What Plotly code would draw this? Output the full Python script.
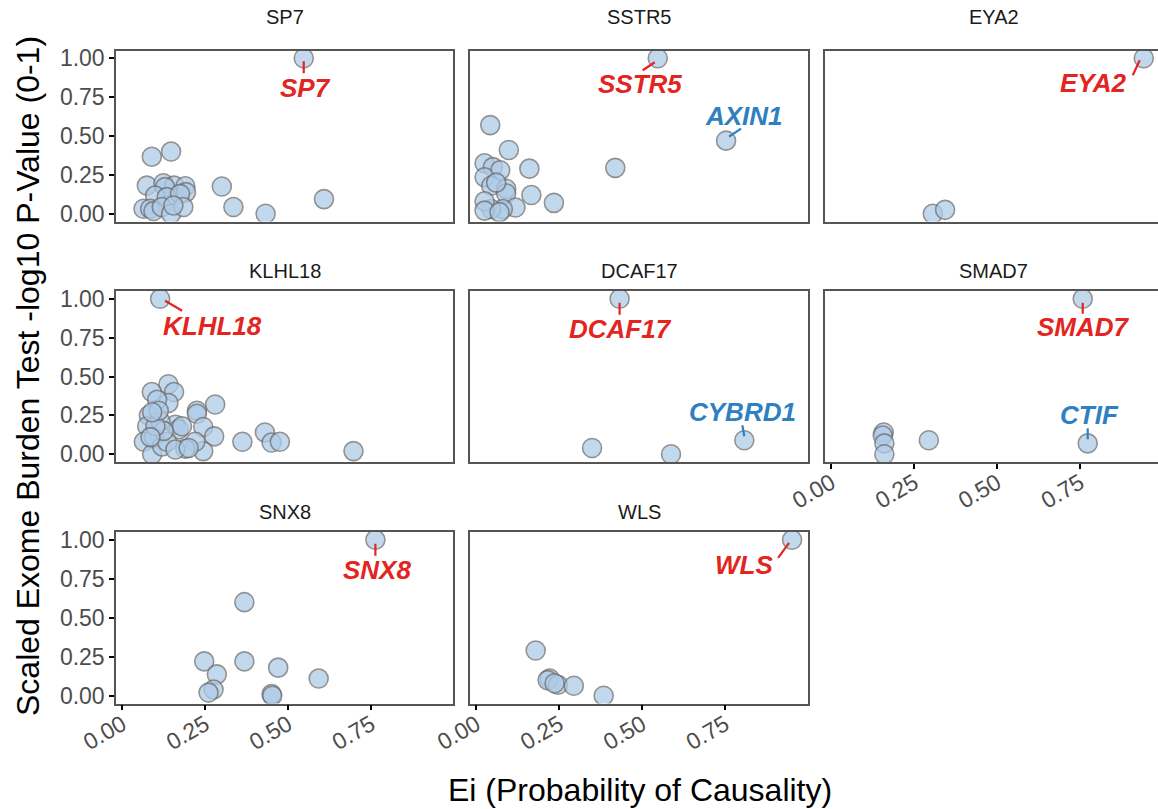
import plotly.graph_objects as go

# ---- data: Ei (x) and scaled -log10 burden-test p-value (y) per locus ----
panels = ["SP7", "SSTR5", "EYA2", "KLHL18", "DCAF17", "SMAD7", "SNX8", "WLS"]

sp7_x = [0.547, 0.089, 0.147, 0.074, 0.124, 0.156, 0.190, 0.192, 0.129, 0.099, 0.134, 0.174,
         0.064, 0.084, 0.094, 0.119, 0.147, 0.184, 0.154, 0.300, 0.335, 0.432, 0.608]
sp7_y = [1.000, 0.367, 0.400, 0.181, 0.196, 0.181, 0.177, 0.139, 0.171, 0.117, 0.107, 0.128,
         0.032, 0.032, 0.017, 0.043, 0.000, 0.043, 0.053, 0.175, 0.043, 0.000, 0.094]

sstr5_x = [0.547, 0.753, 0.042, 0.098, 0.160, 0.419, 0.025, 0.050, 0.072, 0.025, 0.045, 0.090,
           0.090, 0.166, 0.234, 0.118, 0.080, 0.045, 0.025, 0.025, 0.070, 0.060]
sstr5_y = [1.000, 0.470, 0.570, 0.410, 0.290, 0.295, 0.325, 0.300, 0.280, 0.235, 0.180, 0.160,
           0.130, 0.120, 0.070, 0.040, 0.030, 0.030, 0.080, 0.020, 0.010, 0.200]

eya2_x = [0.942, 0.306, 0.343]
eya2_y = [1.000, 0.000, 0.025]

klhl18_x = [0.114, 0.697, 0.362, 0.430, 0.450, 0.475, 0.280, 0.225, 0.225, 0.139, 0.156, 0.089,
            0.139, 0.105, 0.244, 0.277, 0.244, 0.220, 0.190, 0.160, 0.170, 0.080, 0.075, 0.065,
            0.090, 0.095, 0.115, 0.120, 0.135, 0.160, 0.200, 0.125, 0.100, 0.180, 0.085, 0.110,
            0.090]
klhl18_y = [1.000, 0.020, 0.080, 0.140, 0.075, 0.080, 0.320, 0.280, 0.260, 0.450, 0.400, 0.400,
            0.330, 0.350, 0.175, 0.115, 0.020, 0.080, 0.035, 0.190, 0.160, 0.250, 0.180, 0.080,
            0.000, 0.110, 0.210, 0.050, 0.080, 0.030, 0.040, 0.150, 0.180, 0.180, 0.110, 0.280,
            0.270]

dcaf17_x = [0.432, 0.808, 0.349, 0.587]
dcaf17_y = [1.000, 0.090, 0.040, 0.000]

smad7_x = [0.758, 0.773, 0.294, 0.158, 0.155, 0.160, 0.160]
smad7_y = [1.000, 0.070, 0.090, 0.140, 0.120, 0.070, 0.000]

snx8_x = [0.763, 0.368, 0.247, 0.368, 0.470, 0.592, 0.285, 0.275, 0.260, 0.450, 0.452]
snx8_y = [1.000, 0.600, 0.220, 0.220, 0.180, 0.110, 0.137, 0.040, 0.020, 0.010, 0.000]

wls_x = [0.952, 0.179, 0.221, 0.215, 0.246, 0.236, 0.294, 0.384]
wls_y = [1.000, 0.290, 0.110, 0.100, 0.070, 0.080, 0.064, 0.000]

panel_x = [sp7_x, sstr5_x, eya2_x, klhl18_x, dcaf17_x, smad7_x, snx8_x, wls_x]
panel_y = [sp7_y, sstr5_y, eya2_y, klhl18_y, dcaf17_y, smad7_y, snx8_y, wls_y]

# labelled genes: (panel index, point index, text, colour, text offset px, segment px)
RED = "#E32522"
BLUE = "#2E80C0"
labels = [
    (0, 0, "SP7", RED, (2, 30), ((0, 3), (0, 15))),
    (1, 0, "SSTR5", RED, (-18, 26), ((-3, 4), (-15, 12))),
    (1, 1, "AXIN1", BLUE, (18, -25), ((3, -4), (15, -12))),
    (2, 0, "EYA2", RED, (-50, 25), ((-4, 2), (-11, 17))),
    (3, 0, "KLHL18", RED, (52, 27), ((5, 2), (22, 12))),
    (4, 0, "DCAF17", RED, (1, 30), ((0, 4), (0, 16))),
    (4, 1, "CYBRD1", BLUE, (-2, -28), ((0, -4), (-2, -15))),
    (5, 0, "SMAD7", RED, (1, 28), ((0, 4), (0, 15))),
    (5, 1, "CTIF", BLUE, (2, -28), ((0, -4), (0, -15))),
    (6, 0, "SNX8", RED, (2, 30), ((0, 4), (0, 16))),
    (7, 0, "WLS", RED, (-48, 25), ((-3, 3), (-14, 18))),
]

x_ticks = [0.0, 0.25, 0.5, 0.75]
y_ticks = [0.0, 0.25, 0.5, 0.75, 1.0]

# ---- layout geometry (pixels) ----
W, H = 1158, 809
col_px = [(116, 453), (470, 808), (825, 1158)]
row_px = [(50.5, 221.5), (291.0, 462.0), (532.0, 703.5)]
strip_y = [17, 271, 512]          # vertical centre of facet titles
X0 = -0.019
PX_PER_X = 331.7

FONT = "Liberation Sans"
fig = go.Figure()

grid = [(0, 0), (0, 1), (0, 2), (1, 0), (1, 1), (1, 2), (2, 0), (2, 1)]
# which panels carry x tick labels (bottom of each column)
x_labelled = {6, 7, 5}

for i, (r, c) in enumerate(grid):
    n = i + 1
    xa = "x" if n == 1 else f"x{n}"
    ya = "y" if n == 1 else f"y{n}"
    xl = "xaxis" if n == 1 else f"xaxis{n}"
    yl = "yaxis" if n == 1 else f"yaxis{n}"
    cx0, cx1 = col_px[c]
    ry0, ry1 = row_px[r]
    x_hi = X0 + (cx1 - cx0) / PX_PER_X

    fig.add_trace(go.Scatter(
        x=panel_x[i], y=panel_y[i], mode="markers", xaxis=xa, yaxis=ya,
        marker=dict(size=19, color="#AECBE8", opacity=0.75,
                    line=dict(color="#6E6E6E", width=1.6)),
        showlegend=False, hoverinfo="skip"))

    fig.layout[xl] = dict(
        domain=[cx0 / W, cx1 / W], range=[X0, x_hi], anchor=ya,
        automargin=False, showgrid=False, zeroline=False,
        showline=True, linecolor="#555555", linewidth=1.5, mirror=True,
        tickvals=x_ticks if i in x_labelled else [],
        ticktext=["0.00", "0.25", "0.50", "0.75"] if i in x_labelled else [],
        ticks="outside" if i in x_labelled else "", ticklen=5, tickwidth=2,
        tickcolor="black", tickangle=-30, ticklabelstandoff=-8,
        tickfont=dict(family=FONT, size=23, color="#4D4D4D"))
    fig.layout[yl] = dict(
        domain=[1 - ry1 / H, 1 - ry0 / H], range=[-0.05, 1.05], anchor=xa,
        automargin=False, showgrid=False, zeroline=False,
        showline=True, linecolor="#555555", linewidth=1.5, mirror=(c != 2),
        tickvals=y_ticks if c == 0 else [],
        ticktext=["0.00", "0.25", "0.50", "0.75", "1.00"] if c == 0 else [],
        ticks="outside" if c == 0 else "", ticklen=5, tickwidth=2,
        tickcolor="black",
        tickfont=dict(family=FONT, size=23, color="#4D4D4D"))

    # facet strip title
    fig.add_annotation(
        x=(cx0 + (cx1 if c < 2 else 1162)) / 2 / W, y=1 - strip_y[r] / H,
        xref="paper", yref="paper", xanchor="center", yanchor="middle",
        text=panels[i], showarrow=False,
        font=dict(family=FONT, size=20, color="#1A1A1A"))

# gene labels with leader segments
for p, k, txt, col, (dx, dy), ((s0x, s0y), (s1x, s1y)) in labels:
    n = p + 1
    xa = "x" if n == 1 else f"x{n}"
    ya = "y" if n == 1 else f"y{n}"
    px_, py_ = panel_x[p][k], panel_y[p][k]
    fig.add_shape(type="line", xref=xa, yref=ya,
                  xsizemode="pixel", ysizemode="pixel",
                  xanchor=px_, yanchor=py_,
                  x0=s0x, x1=s1x, y0=-s0y, y1=-s1y,
                  line=dict(color=col, width=2.2))
    fig.add_annotation(x=px_, y=py_, xref=xa, yref=ya, text=txt,
                       showarrow=False, xshift=dx, yshift=-dy,
                       xanchor="center", yanchor="middle",
                       font=dict(family=FONT, size=26, color=col,
                                 weight="bold", style="italic"))

# axis titles
fig.add_annotation(x=640 / W, y=1 - 790 / H, xref="paper", yref="paper",
                   xanchor="center", yanchor="middle",
                   text="Ei (Probability of Causality)", showarrow=False,
                   font=dict(family=FONT, size=32, color="black"))
fig.add_annotation(x=28 / W, y=1 - 376 / H, xref="paper", yref="paper",
                   xanchor="center", yanchor="middle",
                   text="Scaled Exome Burden Test -log10 P-Value (0-1)",
                   showarrow=False, textangle=-90,
                   font=dict(family=FONT, size=32, color="black"))

fig.update_layout(width=W, height=H, margin=dict(l=0, r=0, t=0, b=0),
                  plot_bgcolor="white", paper_bgcolor="white")

fig.write_html("out.html")
